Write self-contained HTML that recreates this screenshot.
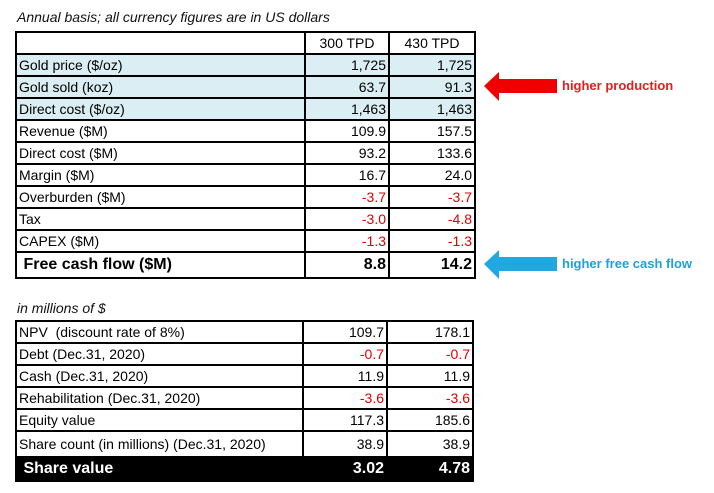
<!DOCTYPE html>
<html><head><meta charset="utf-8"><style>
body{margin:0;background:#fff;width:714px;height:493px;position:relative;font-family:"Liberation Sans",Arial,sans-serif;overflow:hidden}
.cap{position:absolute;left:17px;font-style:italic;font-size:14px;color:#111}
table{position:absolute;left:15px;border-collapse:collapse;table-layout:fixed}
td{border:2px solid #000;font-size:14px;padding:0 2px;height:20px;line-height:20px;white-space:nowrap;overflow:hidden}
td.n{text-align:right}
.b td{background:#daeef3}
.r{color:#e00000}
.fcf td{font-weight:bold;font-size:16px;height:24px}
.sv td{background:#000;color:#fff;font-weight:bold;font-size:16px;height:22px;border-color:#000}
.lbl{position:absolute;font-weight:bold;font-size:13px}
</style></head><body>
<div class="cap" style="top:9px">Annual basis; all currency figures are in US dollars</div>
<table style="top:31px">
<colgroup><col style="width:289px"><col style="width:84px"><col style="width:86px"></colgroup>
<tr><td></td><td style="text-align:center">300 TPD</td><td style="text-align:center">430 TPD</td></tr>
<tr class="b"><td>Gold price ($/oz)</td><td class="n">1,725</td><td class="n">1,725</td></tr>
<tr class="b"><td>Gold sold (koz)</td><td class="n">63.7</td><td class="n">91.3</td></tr>
<tr class="b"><td>Direct cost ($/oz)</td><td class="n">1,463</td><td class="n">1,463</td></tr>
<tr><td>Revenue ($M)</td><td class="n">109.9</td><td class="n">157.5</td></tr>
<tr><td>Direct cost ($M)</td><td class="n">93.2</td><td class="n">133.6</td></tr>
<tr><td>Margin ($M)</td><td class="n">16.7</td><td class="n">24.0</td></tr>
<tr><td>Overburden ($M)</td><td class="n r">-3.7</td><td class="n r">-3.7</td></tr>
<tr><td>Tax</td><td class="n r">-3.0</td><td class="n r">-4.8</td></tr>
<tr><td>CAPEX ($M)</td><td class="n r">-1.3</td><td class="n r">-1.3</td></tr>
<tr class="fcf"><td>&nbsp;Free cash flow ($M)</td><td class="n">8.8</td><td class="n">14.2</td></tr>
</table>
<div class="cap" style="top:300px">in millions of $</div>
<table style="top:320px">
<colgroup><col style="width:287px"><col style="width:84px"><col style="width:86px"></colgroup>
<tr><td>NPV&nbsp; (discount rate of 8%)</td><td class="n">109.7</td><td class="n">178.1</td></tr>
<tr><td>Debt (Dec.31, 2020)</td><td class="n r">-0.7</td><td class="n r">-0.7</td></tr>
<tr><td>Cash (Dec.31, 2020)</td><td class="n">11.9</td><td class="n">11.9</td></tr>
<tr><td>Rehabilitation (Dec.31, 2020)</td><td class="n r">-3.6</td><td class="n r">-3.6</td></tr>
<tr><td>Equity value</td><td class="n">117.3</td><td class="n">185.6</td></tr>
<tr><td style="height:24px">Share count (in millions) (Dec.31, 2020)</td><td class="n">38.9</td><td class="n">38.9</td></tr>
<tr class="sv"><td>&nbsp;Share value</td><td class="n">3.02</td><td class="n">4.78</td></tr>
</table>
<svg style="position:absolute;left:480px;top:68px" width="82" height="38"><polygon points="4,18 19,4 19,11 77,11 77,25 19,25 19,33" fill="#f00000"/></svg>
<div class="lbl" style="left:562px;top:78px;color:#e0201f">higher production</div>
<svg style="position:absolute;left:480px;top:246px" width="82" height="38"><polygon points="4,18 19,4 19,11 77,11 77,25 19,25 19,33" fill="#20a8e0"/></svg>
<div class="lbl" style="left:562px;top:256px;color:#20a0d8">higher free cash flow</div>
</body></html>
